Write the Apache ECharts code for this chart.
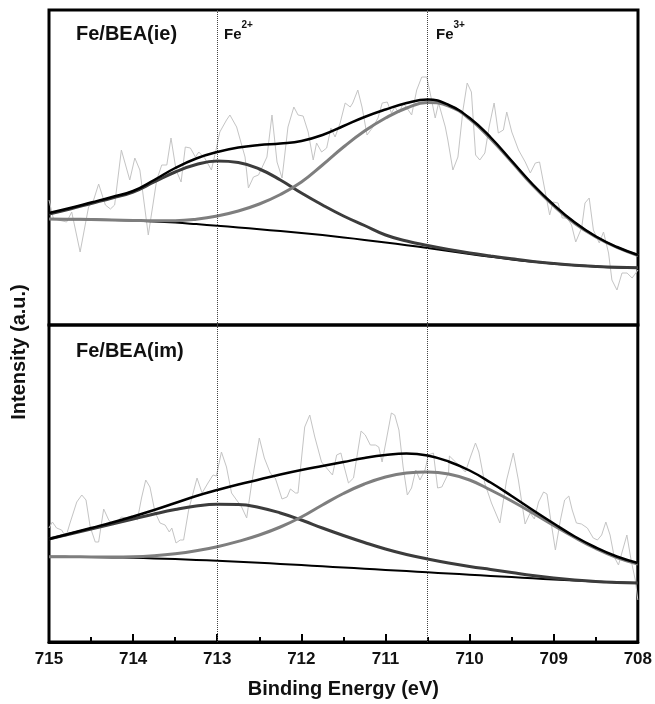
<!DOCTYPE html>
<html>
<head>
<meta charset="utf-8">
<script src="https://cdn.jsdelivr.net/npm/echarts@6/dist/echarts.min.js"></script>
<style>
html,body{margin:0;padding:0;background:#fff;}
#chart{width:655px;height:704px;}
</style>
</head>
<body>
<div id="chart"></div>
<script>
// ---------- DATA ----------
var xTicks = [715, 714, 713, 712, 711, 710, 709, 708];
var peakMarkers = [713, 710.5];
var panelNames = ['Fe/BEA(ie)', 'Fe/BEA(im)'];

// Fitted curves are sampled every 0.25 eV from 715 to 708
var fitE = [715, 714.75, 714.5, 714.25, 714, 713.75, 713.5, 713.25, 713, 712.75, 712.5, 712.25, 712, 711.75, 711.5, 711.25, 711, 710.75, 710.5, 710.25, 710, 709.75, 709.5, 709.25, 709, 708.75, 708.5, 708.25, 708];

// Top panel: Fe/BEA(ie)
var ieEnvelope = [112, 117, 122.5, 128, 134, 145, 157, 166.5, 173, 177.5, 180, 181.5, 184, 190, 199, 208, 215.5, 222, 225.5, 220, 207, 187.5, 164, 140.5, 120, 102.5, 88.5, 78, 70];
var ieBaseline = [106, 105.8, 105.5, 105.1, 104.5, 103.6, 102.4, 100.9, 99.3, 97.6, 95.8, 93.9, 92, 89.9, 87.6, 85.1, 82.5, 79.8, 77, 74, 71, 68.2, 65.6, 63.3, 61.3, 59.7, 58.5, 57.6, 57.2];
var ieFe2 = [111, 116, 121.5, 127, 133, 143, 153, 160.5, 164, 162.5, 156, 145, 132, 120, 109, 99.5, 90, 84, 79.5, 75.5, 72, 69, 66.2, 63.6, 61.5, 59.8, 58.6, 57.7, 57.2];
var ieFe3 = [106, 105.8, 105.5, 105.1, 104.6, 104.2, 104.3, 105.8, 109, 114, 121, 130.5, 143, 160, 178, 194, 207, 217, 222.5, 219, 206, 186, 163, 139.5, 119, 101.5, 88, 77.5, 69.5];
var ieRawE = [715.00, 714.95, 714.89, 714.79, 714.73, 714.63, 714.53, 714.47, 714.41, 714.33, 714.27, 714.22, 714.14, 714.04, 713.98, 713.92, 713.82, 713.72, 713.66, 713.60, 713.55, 713.49, 713.43, 713.38, 713.32, 713.26, 713.22, 713.15, 713.07, 713.01, 712.97, 712.89, 712.85, 712.77, 712.67, 712.63, 712.57, 712.51, 712.41, 712.35, 712.29, 712.23, 712.16, 712.09, 712.04, 711.98, 711.92, 711.86, 711.82, 711.76, 711.70, 711.65, 711.60, 711.54, 711.48, 711.42, 711.39, 711.33, 711.28, 711.22, 711.15, 711.09, 711.04, 710.98, 710.93, 710.89, 710.84, 710.79, 710.73, 710.69, 710.63, 710.57, 710.51, 710.47, 710.41, 710.37, 710.29, 710.26, 710.20, 710.14, 710.08, 710.03, 709.98, 709.93, 709.88, 709.82, 709.77, 709.71, 709.66, 709.60, 709.56, 709.50, 709.42, 709.34, 709.28, 709.22, 709.17, 709.10, 709.05, 709.01, 708.95, 708.90, 708.84, 708.79, 708.74, 708.67, 708.63, 708.58, 708.53, 708.46, 708.41, 708.35, 708.31, 708.25, 708.19, 708.13, 708.07, 708.00];
var ieRawI = [125, 107, 105, 103, 113, 73, 118, 125, 141, 120, 116, 120, 175, 145, 167, 155, 90, 145, 160, 160, 187, 155, 143, 178, 177, 168, 173, 167, 155, 177, 193, 205, 210, 198, 168, 137, 148, 150, 168, 210, 163, 147, 198, 218, 210, 209, 193, 165, 182, 173, 177, 197, 188, 202, 222, 218, 222, 235, 218, 190, 198, 207, 222, 223, 212, 218, 212, 222, 215, 210, 235, 248, 248, 232, 207, 222, 198, 185, 155, 168, 215, 242, 233, 170, 165, 172, 198, 222, 192, 195, 213, 193, 175, 163, 152, 162, 163, 132, 110, 123, 122, 107, 107, 100, 83, 97, 122, 127, 95, 82, 93, 72, 45, 35, 52, 52, 47, 55];

// Bottom panel: Fe/BEA(im)
var imEnvelope = [103, 108.5, 114, 119.5, 125.5, 132, 139, 146, 152, 157.5, 162.5, 167.5, 172, 176, 180, 184, 187, 188.5, 186.5, 180.5, 171.5, 159.5, 146, 132, 118.5, 105.5, 94.5, 85.5, 79];
var imBaseline = [85.3, 85.1, 84.9, 84.6, 84.2, 83.6, 82.9, 82.1, 81.2, 80.2, 79.2, 78.1, 76.9, 75.7, 74.5, 73.3, 72.1, 70.9, 69.7, 68.5, 67.3, 66.1, 64.9, 63.7, 62.5, 61.4, 60.4, 59.6, 59];
var imFe2 = [103, 108, 113, 118, 123, 128, 132.5, 136, 137.7, 137.5, 134.5, 129, 122, 114, 106.5, 99.5, 93, 87.5, 83, 79, 75.5, 72.5, 69.5, 66.5, 64, 62, 60.5, 59.6, 59];
var imFe3 = [85.3, 85.2, 85.1, 85.1, 85.3, 86.3, 88.2, 91.2, 95.3, 100.6, 107, 115, 125, 137, 148.5, 158, 165, 169, 170, 168, 162, 152, 141, 129, 116.5, 104.5, 93.5, 84.5, 78];
var imRawE = [715.00, 714.96, 714.91, 714.85, 714.80, 714.75, 714.67, 714.61, 714.56, 714.51, 714.45, 714.41, 714.35, 714.29, 714.24, 714.20, 714.14, 714.08, 714.02, 713.95, 713.90, 713.85, 713.80, 713.74, 713.68, 713.62, 713.57, 713.54, 713.49, 713.44, 713.40, 713.34, 713.24, 713.18, 713.11, 713.05, 713.01, 712.95, 712.89, 712.83, 712.77, 712.71, 712.65, 712.59, 712.50, 712.44, 712.37, 712.31, 712.23, 712.17, 712.13, 712.07, 712.04, 711.96, 711.90, 711.84, 711.76, 711.70, 711.63, 711.58, 711.53, 711.49, 711.44, 711.38, 711.29, 711.24, 711.18, 711.12, 711.08, 711.04, 710.99, 710.93, 710.89, 710.84, 710.79, 710.74, 710.69, 710.64, 710.59, 710.53, 710.49, 710.43, 710.38, 710.33, 710.25, 710.24, 710.13, 710.05, 709.99, 709.93, 709.89, 709.82, 709.74, 709.64, 709.56, 709.48, 709.42, 709.34, 709.28, 709.23, 709.18, 709.12, 709.08, 709.03, 708.98, 708.92, 708.87, 708.82, 708.78, 708.73, 708.67, 708.60, 708.53, 708.48, 708.43, 708.38, 708.33, 708.28, 708.23, 708.18, 708.13, 708.08, 708.03, 708.00];
var imRawI = [114, 120, 114, 112, 105, 119, 140, 147, 142, 115, 100, 100, 133, 122, 117, 119, 125, 124, 126, 122, 144, 162, 155, 130, 119, 117, 110, 114, 99, 102, 102, 132, 164, 149, 159, 167, 166, 190, 175, 149, 142, 135, 124, 159, 204, 184, 169, 164, 143, 145, 153, 149, 149, 215, 227, 205, 180, 174, 167, 187, 189, 175, 159, 164, 211, 207, 197, 197, 195, 180, 202, 229, 227, 212, 175, 147, 154, 172, 162, 172, 187, 189, 154, 155, 169, 186, 177, 170, 185, 199, 190, 159, 139, 119, 162, 189, 162, 118, 129, 123, 140, 150, 148, 119, 92, 122, 142, 146, 132, 119, 118, 114, 104, 102, 107, 120, 107, 85, 77, 92, 107, 82, 62, 42];

// ---------- BUILD ----------
function pairs(xs, ys) { return xs.map(function (x, i) { return [x, ys[i]]; }); }

var FONT = '"Liberation Sans", Arial, Helvetica, sans-serif';
var markLineCfg = {
  silent: true,
  symbol: ['none', 'none'],
  label: { show: false },
  lineStyle: { type: 'dotted', color: '#444', width: 1 },
  data: peakMarkers.map(function (v) { return { xAxis: v }; })
};

function panelSeries(gi, rawE, rawI, base, fe3, fe2, env) {
  var sm = 0.45;
  return [
    { type: 'line', xAxisIndex: gi, yAxisIndex: gi, data: pairs(rawE, rawI), showSymbol: false, z: 1,
      lineStyle: { color: '#c4c4c4', width: 1 }, markLine: markLineCfg },
    { type: 'line', xAxisIndex: gi, yAxisIndex: gi, data: pairs(fitE, base), showSymbol: false, smooth: sm, z: 2,
      lineStyle: { color: '#000', width: 2 } },
    { type: 'line', xAxisIndex: gi, yAxisIndex: gi, data: pairs(fitE, fe2), showSymbol: false, smooth: sm, z: 3,
      lineStyle: { color: '#3c3c3c', width: 3 } },
    { type: 'line', xAxisIndex: gi, yAxisIndex: gi, data: pairs(fitE, fe3), showSymbol: false, smooth: sm, z: 4,
      lineStyle: { color: '#7e7e7e', width: 3 } },
    { type: 'line', xAxisIndex: gi, yAxisIndex: gi, data: pairs(fitE, env), showSymbol: false, smooth: sm, z: 5,
      lineStyle: { color: '#000', width: 2.5 } }
  ];
}

var chart = echarts.init(document.getElementById('chart'), null, { renderer: 'canvas' });

var supRich = {
  a: { fontSize: 15, fontWeight: 'bold', color: '#111', fontFamily: FONT, lineHeight: 22, verticalAlign: 'bottom' },
  b: { fontSize: 10, fontWeight: 'bold', color: '#111', fontFamily: FONT, lineHeight: 22, verticalAlign: 'top' }
};

var option = {
  animation: false,
  backgroundColor: '#fff',
  title: [
    { text: panelNames[0], left: 71, top: 19, textStyle: { fontSize: 20, fontWeight: 'bold', color: '#111', fontFamily: FONT } },
    { text: panelNames[1], left: 71, top: 336, textStyle: { fontSize: 20, fontWeight: 'bold', color: '#111', fontFamily: FONT } },
    { text: '{a|Fe}{b|2+}', left: 219, top: 15, textStyle: { rich: supRich } },
    { text: '{a|Fe}{b|3+}', left: 431, top: 15, textStyle: { rich: supRich } }
  ],
  graphic: [
    { type: 'text', left: 9, top: 'middle', rotation: Math.PI / 2, z: 10,
      style: { text: 'Intensity (a.u.)', font: 'bold 20px ' + FONT, fill: '#111' } }
  ],
  grid: [
    { left: 49, width: 589, top: 10, height: 315, show: true, borderColor: '#000', borderWidth: 3, backgroundColor: 'transparent' },
    { left: 49, width: 589, top: 325, height: 317, show: true, borderColor: '#000', borderWidth: 3, backgroundColor: 'transparent' }
  ],
  xAxis: [
    { gridIndex: 0, type: 'value', min: 708, max: 715, interval: 1, inverse: true,
      axisLine: { show: false }, axisTick: { show: false }, axisLabel: { show: false }, splitLine: { show: false } },
    { gridIndex: 1, type: 'value', min: 708, max: 715, interval: 1, inverse: true,
      name: 'Binding Energy (eV)', nameLocation: 'middle', nameGap: 37,
      nameTextStyle: { fontSize: 20, fontWeight: 'bold', color: '#111', fontFamily: FONT },
      axisLine: { show: true, lineStyle: { color: '#000', width: 3 } },
      axisTick: { show: true, inside: true, length: 8, lineStyle: { color: '#000', width: 2 } },
      minorTick: { show: true, splitNumber: 2, length: 5, lineStyle: { color: '#000', width: 2 } },
      axisLabel: { show: true, margin: 9, fontSize: 17, fontWeight: 'bold', color: '#111', fontFamily: FONT,
        formatter: function (v) { return xTicks.indexOf(v) >= 0 ? String(v) : ''; } },
      splitLine: { show: false } }
  ],
  yAxis: [
    { gridIndex: 0, type: 'value', min: 0, max: 315, show: false, splitLine: { show: false } },
    { gridIndex: 1, type: 'value', min: 0, max: 317, show: false, splitLine: { show: false } }
  ],
  series: [].concat(
    panelSeries(0, ieRawE, ieRawI, ieBaseline, ieFe3, ieFe2, ieEnvelope),
    panelSeries(1, imRawE, imRawI, imBaseline, imFe3, imFe2, imEnvelope)
  )
};

chart.setOption(option);
</script>
</body>
</html>
